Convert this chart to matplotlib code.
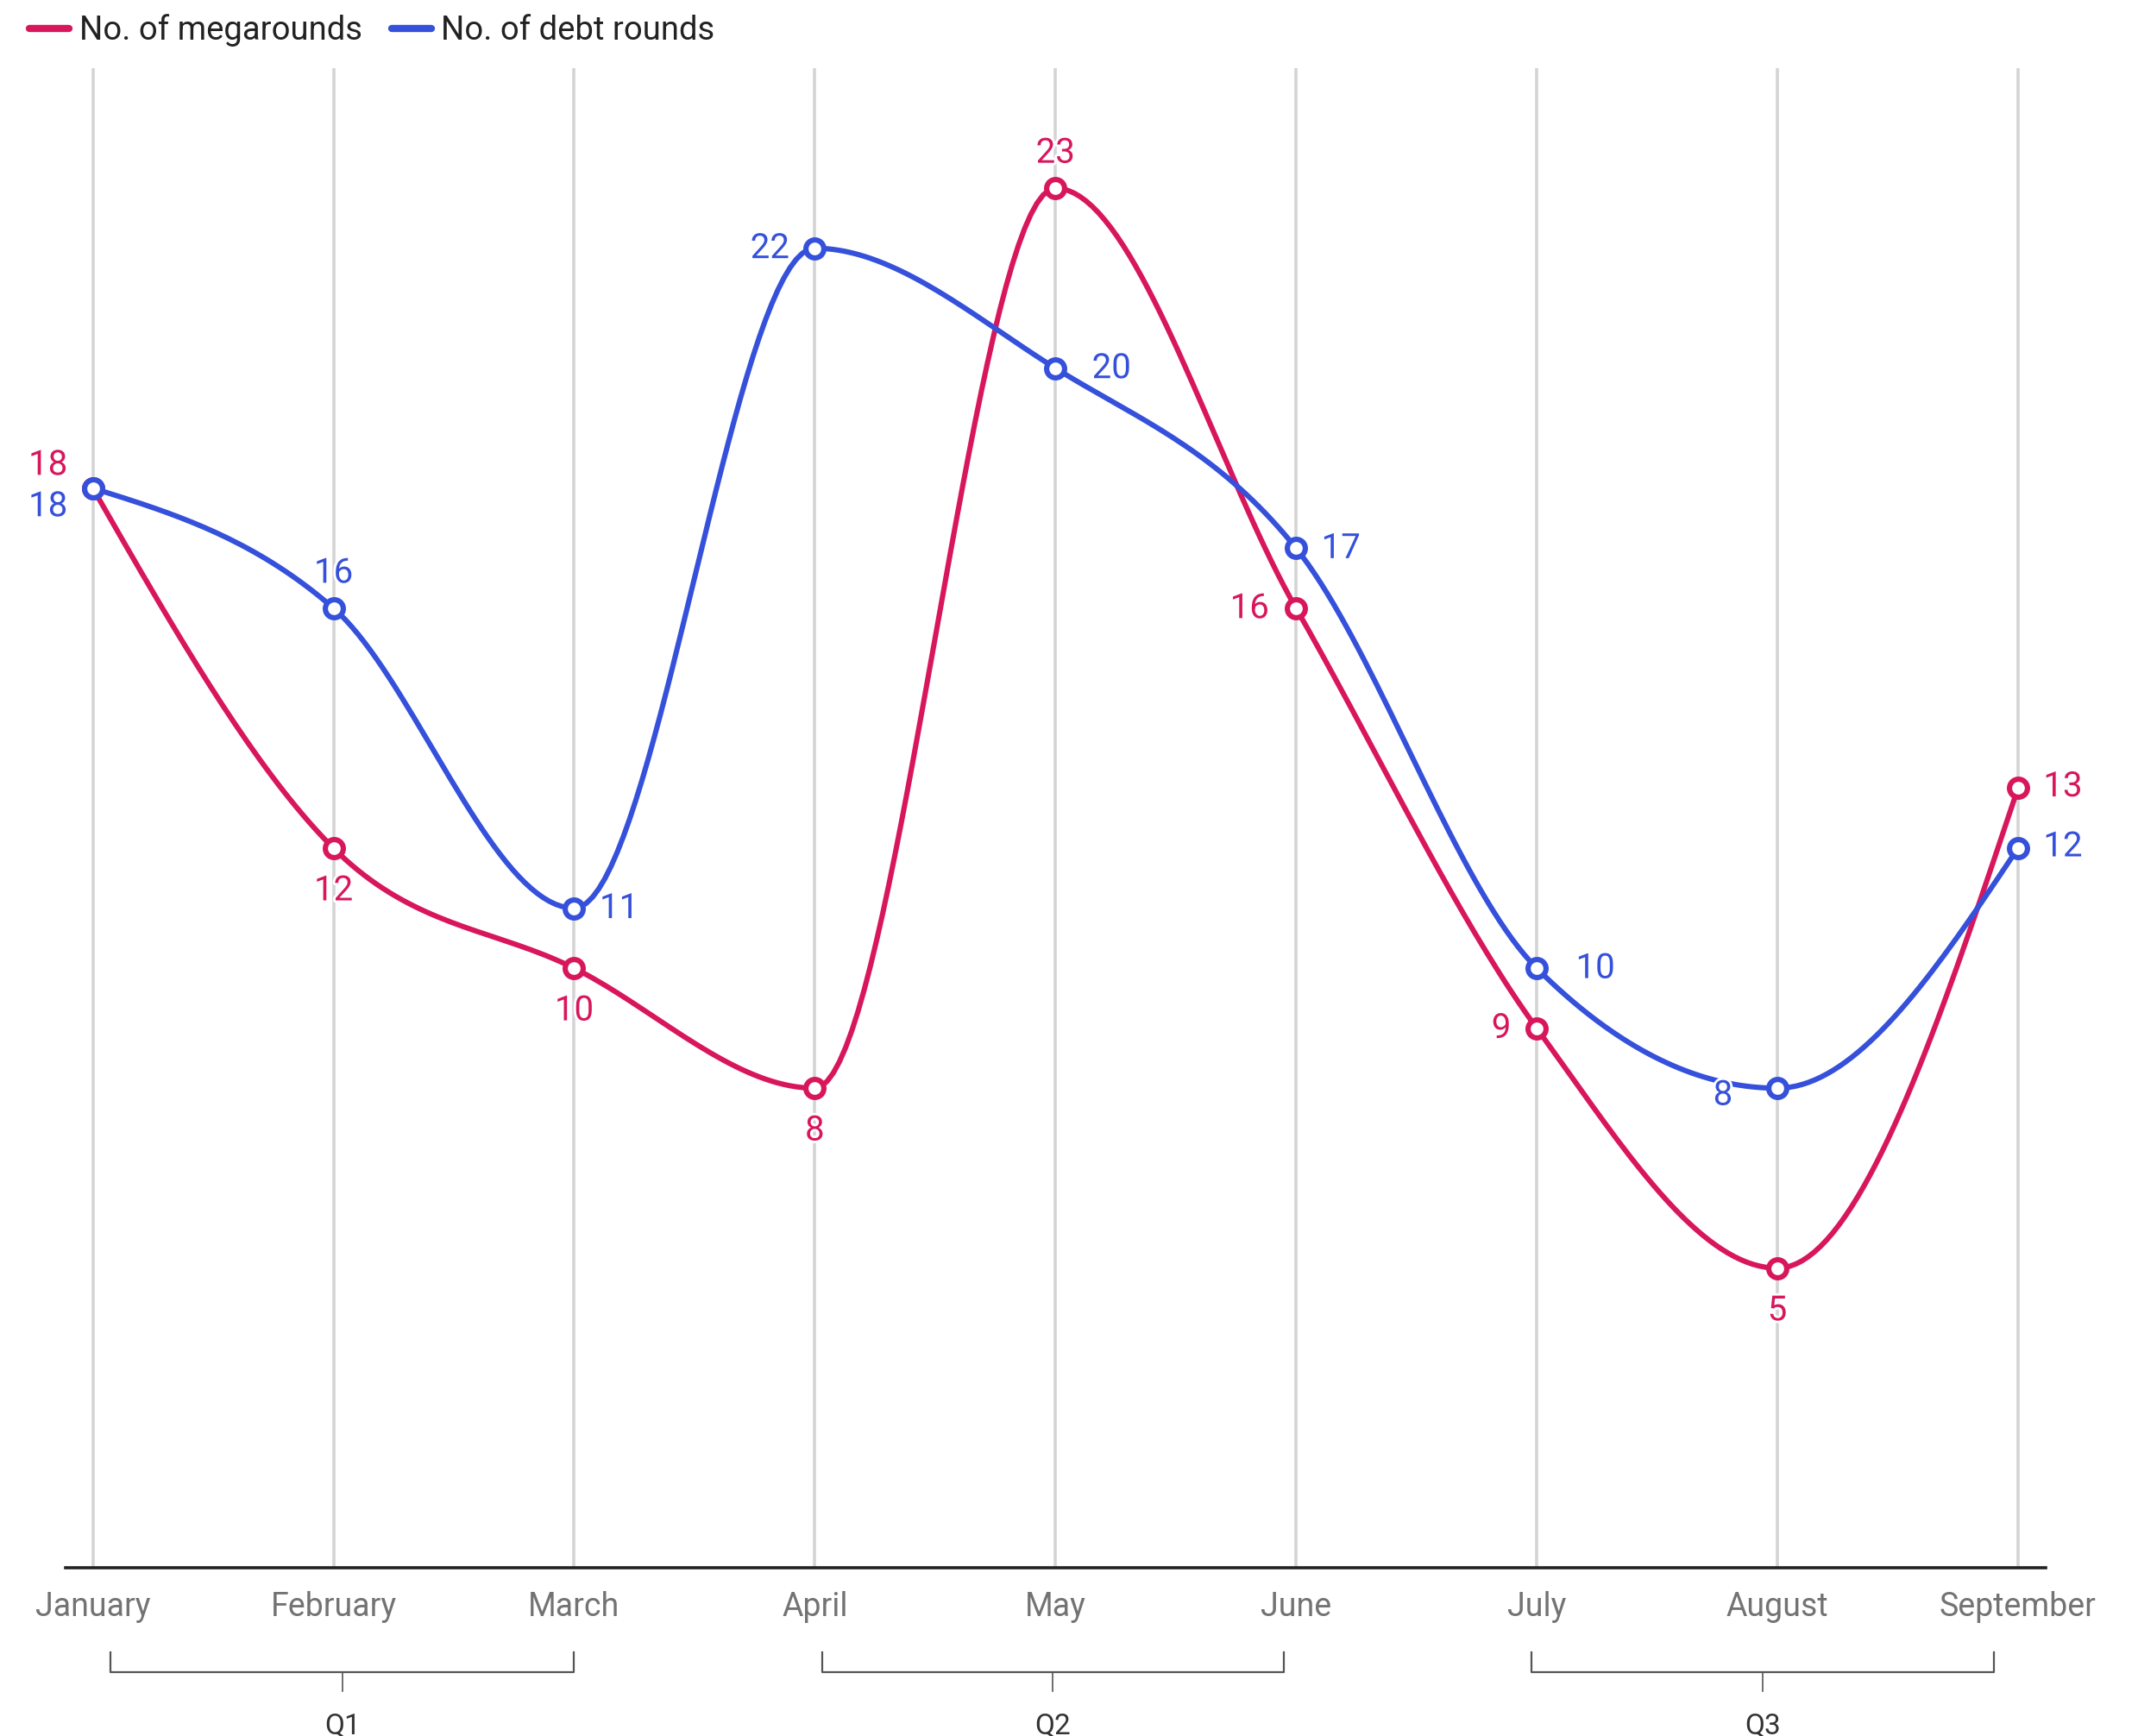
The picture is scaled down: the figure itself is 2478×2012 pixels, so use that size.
import numpy as np
import matplotlib
matplotlib.use("Agg")
import matplotlib.pyplot as plt
import matplotlib.patheffects as pe
from matplotlib.lines import Line2D
from matplotlib.transforms import blended_transform_factory

plt.rcParams['font.family'] = ['Roboto', 'DejaVu Sans']

# ---- data ----
months = ["January", "February", "March", "April", "May", "June",
          "July", "August", "September"]
megarounds = [18, 12, 10, 8, 23, 16, 9, 5, 13]
debt_rounds = [18, 16, 11, 22, 20, 17, 10, 8, 12]
quarters = ["Q1", "Q2", "Q3"]

RED = "#d8165c"
BLUE = "#3550da"

# label offsets (pixels) for each point's value label
mega_offsets = [(-52, 27), (0, -49), (0, -49), (0, -49), (0, 41),
                (-54, 0), (-41, 0), (0, -49), (52, 2)]
debt_offsets = [(-52, -21), (0, 41), (52, 0), (-52, 0), (65, 0),
                (52, 0), (68, 0), (-63, -8), (52, 2)]

# bracket extents for quarter groups (in x data units)
quarter_spans = [(0.074, 2.0, 1.037), (3.03, 4.95, 3.99), (5.98, 7.9, 6.94)]


def monotone_curve(xs, ys, n=40):
    """Monotone cubic interpolation (Steffen), returned as dense x, y."""
    xs = np.asarray(xs, float)
    ys = np.asarray(ys, float)
    m = len(xs)
    h = np.diff(xs)
    s = np.diff(ys) / h
    t = np.zeros(m)
    for i in range(1, m - 1):
        h0, h1 = h[i - 1], h[i]
        s0, s1 = s[i - 1], s[i]
        p = (s0 * h1 + s1 * h0) / (h0 + h1)
        t[i] = (np.sign(s0) + np.sign(s1)) * min(abs(s0), abs(s1), 0.5 * abs(p))
    t[0] = (3 * s[0] - t[1]) / 2
    t[-1] = (3 * s[-1] - t[-2]) / 2
    out_x, out_y = [], []
    u = np.linspace(0, 1, n)
    for i in range(m - 1):
        dx = h[i] / 3
        p0 = (xs[i], ys[i])
        p1 = (xs[i] + dx, ys[i] + dx * t[i])
        p2 = (xs[i + 1] - dx, ys[i + 1] - dx * t[i + 1])
        p3 = (xs[i + 1], ys[i + 1])
        bx = ((1 - u) ** 3 * p0[0] + 3 * (1 - u) ** 2 * u * p1[0]
              + 3 * (1 - u) * u ** 2 * p2[0] + u ** 3 * p3[0])
        by = ((1 - u) ** 3 * p0[1] + 3 * (1 - u) ** 2 * u * p1[1]
              + 3 * (1 - u) * u ** 2 * p2[1] + u ** 3 * p3[1])
        out_x.extend(bx)
        out_y.extend(by)
    return np.array(out_x), np.array(out_y)


fig = plt.figure(figsize=(24.78, 20.12), dpi=100)
ax = fig.add_axes([0.0307, 0.0967, 0.9261, 0.864])
x = np.arange(len(months))

ax.set_xlim(-0.113, len(months) - 1 + 0.115)
ax.set_ylim(0, 25)

for xi in x:
    ax.axvline(xi, color="#d4d4d4", lw=2.6, zorder=1)

for vals, col, offs in [(megarounds, RED, mega_offsets),
                        (debt_rounds, BLUE, debt_offsets)]:
    cx, cy = monotone_curve(x, vals)
    ax.plot(cx, cy, color=col, lw=4.4, zorder=3, solid_capstyle="round")
    ax.plot(x, vals, ls="none", marker="o", ms=15, mfc="white", mec=col,
            mew=4.4, zorder=4)
    for xi, v, (ox, oy) in zip(x, vals, offs):
        ax.annotate(str(v), (xi, v), xytext=(ox, oy), textcoords="offset pixels",
                    ha="center", va="center", fontsize=29, color=col, zorder=5,
                    path_effects=[pe.withStroke(linewidth=4, foreground="white")])

for side in ["left", "right", "top"]:
    ax.spines[side].set_visible(False)
ax.spines["bottom"].set_color("#222222")
ax.spines["bottom"].set_linewidth(2.6)
ax.set_yticks([])
ax.set_xticks(x)
ax.set_xticklabels(months, fontsize=27, color="#737373")
ax.tick_params(axis="x", length=0, pad=19)

# quarter brackets under the month labels
trans = blended_transform_factory(ax.transData, fig.transFigure)
y_top = 1 - 1915 / 2012
y_mid = 1 - 1938 / 2012
y_stem = 1 - 1960 / 2012
y_lab = 1 - 2000 / 2012
for q, (a, b, c) in zip(quarters, quarter_spans):
    ax.add_line(Line2D([a, a, b, b], [y_top, y_mid, y_mid, y_top],
                       transform=trans, color="#555555", lw=1.6, clip_on=False))
    ax.add_line(Line2D([c, c], [y_mid, y_stem], transform=trans,
                       color="#555555", lw=1.2, clip_on=False))
    ax.text(c, y_lab, q, transform=trans, ha="center", va="center",
            fontsize=24, color="#333333")

# legend
handles = [Line2D([0], [0], color=RED, lw=6, solid_capstyle="round"),
           Line2D([0], [0], color=BLUE, lw=6, solid_capstyle="round")]
fig.legend(handles, ["No. of megarounds", "No. of debt rounds"],
           loc="upper left", bbox_to_anchor=(0.0, 1.009), ncol=2, frameon=False,
           fontsize=27.5, handlelength=1.2, handletextpad=0.3, columnspacing=0.9,
           labelcolor="#222222")

fig.savefig("out.png", dpi=100, facecolor="white")
